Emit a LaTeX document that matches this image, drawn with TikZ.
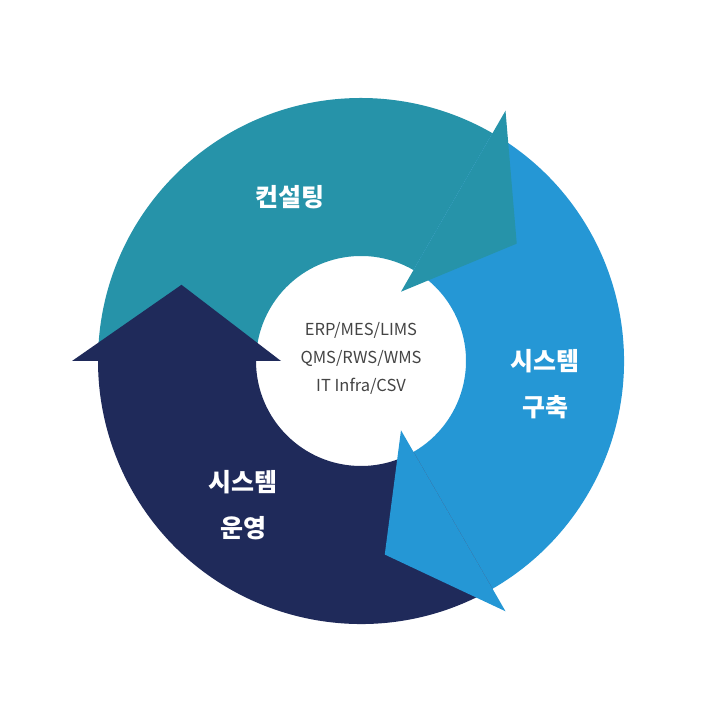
\documentclass[tikz,border=0pt]{standalone}
\usepackage{fontspec}
\setmainfont{Noto Sans CJK KR}
\usetikzlibrary{positioning}
\definecolor{tealc}{HTML}{2693A9}
\definecolor{bluec}{HTML}{2597D5}
\definecolor{navyc}{HTML}{1F2A5A}
\definecolor{textc}{HTML}{444444}

\tikzset{
  stagelabel/.style={text=white, font=\bfseries\fontsize{25}{46}\selectfont, align=center},
  corelabel/.style={text=textc, font=\fontsize{16.5}{28}\selectfont, align=center}
}

\begin{document}
\begin{tikzpicture}[
  x={(1pt,0pt)},
  y={(0pt,1pt)}
]
\useasboundingbox (0,0) rectangle (722,722);

\begin{scope}[shift={(361,361)}]
% ring bodies
\foreach \a/\b/\col in {180/60/tealc, 60/-60/bluec, -60/-180/navyc}
{
  \fill[\col] (\a:263) arc[start angle=\a, end angle=\b, radius=263]
    -- (\b:105) arc[start angle=\b, end angle=\a, radius=105] -- cycle;
}
% arrow heads
\foreach \b/\col in {60/tealc, -60/bluec, -180/navyc}
{
  \fill[\col] (\b:289) -- (\b-23:195) -- (\b:80) -- cycle;
}
\end{scope}

\node[stagelabel] (consult) at (290,525) {컨설팅};
\node[stagelabel] (build) at (545,338) {시스템\\구축};
\node[stagelabel] (operate) at (243,217) {시스템\\운영};
\node[corelabel] (core) at (361,364) {ERP/MES/LIMS\\QMS/RWS/WMS\\IT Infra/CSV};
\end{tikzpicture}
\end{document}
